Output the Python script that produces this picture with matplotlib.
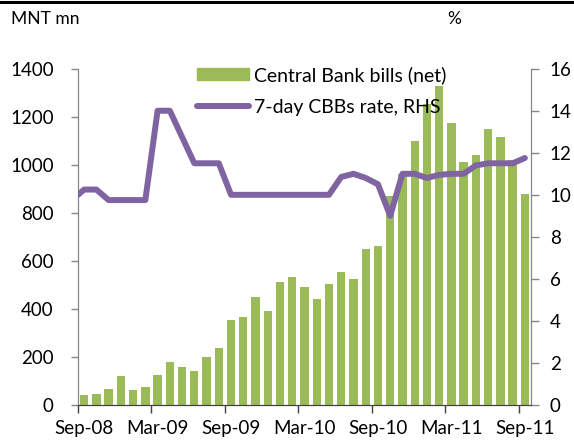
import numpy as np
import matplotlib
matplotlib.use("Agg")
import matplotlib.pyplot as plt
from matplotlib.lines import Line2D

plt.rcParams['font.family'] = ['Lato', 'DejaVu Sans']

# Monthly data, Sep-08 .. Sep-11
months = np.arange(37)
bills = [42, 44, 65, 119, 61, 76, 126, 179, 160, 143, 201, 236,
         355, 367, 451, 393, 512, 532, 492, 443, 504, 555, 525, 649,
         660, 872, 960, 1101, 1254, 1330, 1173, 1011, 1040, 1147, 1115, 1020,
         879]
# 7-day CBB rate; first value is the opening rate at the start of the period
rate_open = 10.0
rate = [10.25, 10.25, 9.75, 9.75, 9.75, 9.75, 14.0, 14.0, 12.75, 11.5, 11.5, 11.5,
        10.0, 10.0, 10.0, 10.0, 10.0, 10.0, 10.0, 10.0, 10.0, 10.85, 11.0, 10.8,
        10.5, 9.0, 11.0, 11.0, 10.8, 10.95, 11.0, 11.0, 11.4, 11.5, 11.5, 11.5,
        11.75]
xtick_labels = ['Sep-08', 'Mar-09', 'Sep-09', 'Mar-10', 'Sep-10', 'Mar-11', 'Sep-11']
left_ticks = [0, 200, 400, 600, 800, 1000, 1200, 1400]
right_ticks = [0, 2, 4, 6, 8, 10, 12, 14, 16]

bar_color = '#9BBB59'
line_color = '#8064A2'
axis_grey = '#868686'

W, H = 574, 445
fig = plt.figure(figsize=(W / 100, H / 100), dpi=100)
ax = fig.add_axes([78 / W, 1 - 405 / H, (531 - 78) / W, (405 - 68.7) / H])

ax.bar(months + 0.5, bills, width=0.68, color=bar_color, zorder=2)
ax.set_xlim(0, 37)
ax.set_ylim(0, 1400)
ax.set_yticks(left_ticks)

# tick marks at month boundaries, labels centred under the month
tick_pos = np.arange(0, 37, 6)
ax.set_xticks(tick_pos)
ax.set_xticklabels([])
ax.set_xticks(tick_pos + 0.5, minor=True)
ax.set_xticklabels(xtick_labels, minor=True)

ax2 = ax.twinx()
rate_x = np.concatenate([[0.0], months + 0.5])
rate_y = [rate_open] + rate
ax2.plot(rate_x, rate_y, color=line_color, lw=4.3,
         solid_joinstyle='round', solid_capstyle='round', zorder=3)
ax2.set_ylim(0, 16)
ax2.set_yticks(right_ticks)

for a in (ax, ax2):
    a.spines['top'].set_visible(False)
    a.spines['left'].set_color(axis_grey)
    a.spines['right'].set_color(axis_grey)
    a.spines['bottom'].set_color('#404040')
    a.set_facecolor('none')

ax.tick_params(axis='y', direction='out', length=5, width=1, color=axis_grey,
               labelsize=13.5, pad=12.5)
ax.tick_params(axis='x', which='major', direction='out', length=6, width=1,
               color='#404040')
ax.tick_params(axis='x', which='minor', length=0, labelsize=13.5, pad=10.5)
ax2.tick_params(axis='y', direction='out', length=6, width=1, color=axis_grey,
                labelsize=13.5, pad=7.5)

# Legend
handles = [plt.Rectangle((0, 0), 1, 1, color=bar_color),
           Line2D([0], [0], color=line_color, lw=4.3, solid_capstyle='round')]
fig.legend(handles, ['Central Bank bills (net)', '7-day CBBs rate, RHS'],
           loc='upper left', bbox_to_anchor=(197 / W, 1 - 66 / H),
           frameon=False, fontsize=14, handlelength=2.68, handleheight=0.57,
           handletextpad=0.26, labelspacing=0.76, borderaxespad=0, borderpad=0)

fig.text(11 / W, 1 - 18.5 / H, 'MNT mn', fontsize=12.5, va='center', ha='left')
fig.text(454 / W, 1 - 18.5 / H, '%', fontsize=12.5, va='center', ha='center')

# Rule across the top of the figure
fig.add_artist(Line2D([0, 1], [1 - 1.5 / H, 1 - 1.5 / H], color='black', lw=2.2,
                      transform=fig.transFigure))

fig.savefig('out.png', dpi=100)
